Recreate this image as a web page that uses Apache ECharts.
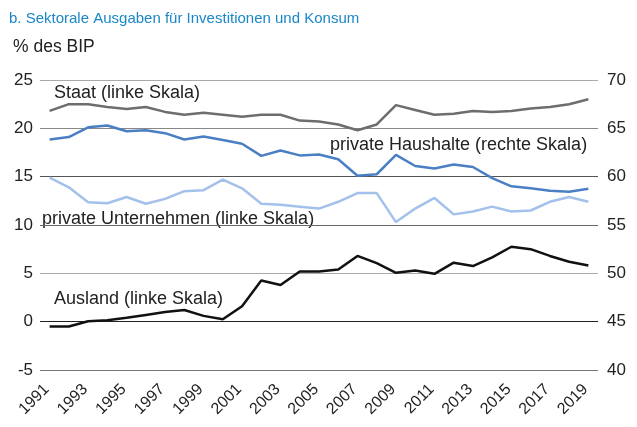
<!DOCTYPE html>
<html>
<head>
<meta charset="utf-8">
<script src="https://cdn.jsdelivr.net/npm/echarts@6/dist/echarts.min.js"></script>
<style>
  html, body { margin: 0; padding: 0; background: #fff; }
  #main { width: 637px; height: 427px; }
</style>
</head>
<body>
<div id="main"></div>
<script>
// Jahre 1991 - 2019
const years = [];
for (let y = 1991; y <= 2019; y++) years.push(String(y));

// linke Skala
const staat = [21.8, 22.5, 22.5, 22.2, 22.0, 22.2, 21.7, 21.4, 21.6, 21.4, 21.2, 21.4, 21.4, 20.8, 20.7,
  20.4, 19.8, 20.4, 22.4, 21.9, 21.4, 21.5, 21.8, 21.7, 21.8, 22.05, 22.2, 22.5, 23.0];
const unternehmen = [14.9, 13.9, 12.35, 12.25, 12.9, 12.2, 12.7, 13.5, 13.6, 14.7, 13.8, 12.2, 12.1, 11.9, 11.7,
  12.4, 13.3, 13.3, 10.3, 11.7, 12.8, 11.1, 11.4, 11.9, 11.4, 11.5, 12.4, 12.9, 12.4];
const ausland = [-0.5, -0.5, 0.05, 0.15, 0.4, 0.7, 1.0, 1.2, 0.6, 0.25, 1.6, 4.25, 3.8, 5.2, 5.2,
  5.4, 6.8, 6.05, 5.05, 5.3, 4.95, 6.1, 5.75, 6.65, 7.75, 7.5, 6.8, 6.2, 5.8];
// rechte Skala
const haushalte = [63.85, 64.1, 65.1, 65.3, 64.7, 64.8, 64.5, 63.85, 64.15, 63.8, 63.4, 62.15, 62.7, 62.2, 62.3,
  61.8, 60.1, 60.25, 62.25, 61.1, 60.85, 61.25, 61.0, 59.85, 59.0, 58.8, 58.55, 58.45, 58.75];

const font = 'Liberation Sans, Arial, sans-serif';

const chart = echarts.init(document.getElementById('main'));
chart.setOption({
  animation: false,
  grid: { left: 40, right: 39, top: 80, bottom: 57 },
  xAxis: {
    type: 'category',
    data: years,
    boundaryGap: true,
    axisLine: { show: false },
    axisTick: { show: false },
    axisLabel: { interval: 1, rotate: 45, margin: 14, padding: [0, 4, 0, 0], fontSize: 16, color: '#222', fontFamily: font }
  },
  yAxis: [
    {
      type: 'value', min: -5, max: 25, interval: 5,
      axisLine: { show: false }, axisTick: { show: false },
      axisLabel: { margin: 7, fontSize: 17, color: '#222', fontFamily: font },
      splitLine: { lineStyle: { width: 1, color: ['#777', '#222', '#aaa', '#666', '#555', '#888', '#aaa'] } }
    },
    {
      type: 'value', min: 40, max: 70, interval: 5,
      axisLine: { show: false }, axisTick: { show: false },
      axisLabel: { margin: 9, fontSize: 17, color: '#222', fontFamily: font },
      splitLine: { show: false }
    }
  ],
  series: [
    { name: 'Staat', type: 'line', data: staat, yAxisIndex: 0, symbol: 'none',
      lineStyle: { color: '#6d6d6d', width: 2.5 } },
    { name: 'private Haushalte', type: 'line', data: haushalte, yAxisIndex: 1, symbol: 'none',
      lineStyle: { color: '#4a7fc4', width: 2.5 } },
    { name: 'private Unternehmen', type: 'line', data: unternehmen, yAxisIndex: 0, symbol: 'none',
      lineStyle: { color: '#a3c1ea', width: 2.5 } },
    { name: 'Ausland', type: 'line', data: ausland, yAxisIndex: 0, symbol: 'none',
      lineStyle: { color: '#111', width: 2.5 } }
  ],
  graphic: [
    { type: 'text', left: 9, top: 11, style: { text: 'b. Sektorale Ausgaben für Investitionen und Konsum', fontSize: 15, fill: '#1a87c9', fontFamily: font } },
    { type: 'text', left: 13, top: 38, style: { text: '% des BIP', fontSize: 17.5, fill: '#222', fontFamily: font } },
    { type: 'text', left: 54, top: 84, style: { text: 'Staat (linke Skala)', fontSize: 18, fill: '#222', fontFamily: font } },
    { type: 'text', left: 330, top: 136, style: { text: 'private Haushalte (rechte Skala)', fontSize: 18, fill: '#222', fontFamily: font } },
    { type: 'text', left: 42, top: 210, style: { text: 'private Unternehmen (linke Skala)', fontSize: 18, fill: '#222', fontFamily: font } },
    { type: 'text', left: 54, top: 290, style: { text: 'Ausland (linke Skala)', fontSize: 18, fill: '#222', fontFamily: font } }
  ]
});
</script>
</body>
</html>
